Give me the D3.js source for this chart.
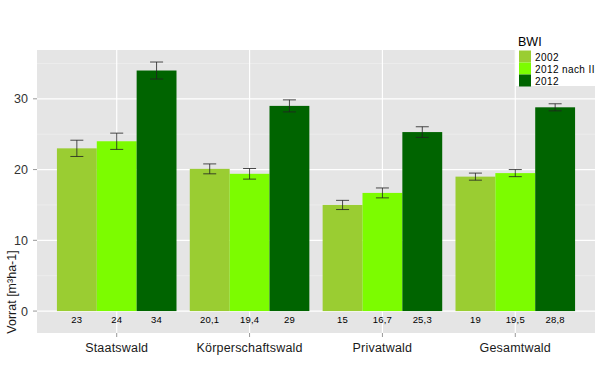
<!DOCTYPE html>
<html><head><meta charset="utf-8">
<script src="https://cdn.jsdelivr.net/npm/d3@7"></script>
<style>body{margin:0;background:#fff}svg{display:block;font-family:"Liberation Sans",Arial,sans-serif}</style>
</head><body><svg id="c" width="600" height="366"></svg>
<script>
const categories = ["Staatswald", "Körperschaftswald", "Privatwald", "Gesamtwald"];
const seriesNames = ["2002", "2012 nach II", "2012"];
const seriesColors = ["#9ACD32", "#7CFC00", "#006400"];
const values2002 = [23, 20.1, 15, 19];
const values2012nachII = [24, 19.4, 16.7, 19.5];
const values2012 = [34, 29, 25.3, 28.8];
const err2002 = [1.15, 0.7, 0.65, 0.5];
const err2012nachII = [1.15, 0.75, 0.7, 0.5];
const err2012 = [1.2, 0.85, 0.75, 0.5];
const valueLabels2002 = ["23", "20,1", "15", "19"];
const valueLabels2012nachII = ["24", "19,4", "16,7", "19,5"];
const valueLabels2012 = ["34", "29", "25,3", "28,8"];
const yTicks = [0, 10, 20, 30];
const yMinor = [5, 15, 25, 35];
const yTitle = "Vorrat [m³ha-1]";
const legendTitle = "BWI";

const series = [
  {name: seriesNames[0], vals: values2002, errs: err2002, labels: valueLabels2002, color: seriesColors[0]},
  {name: seriesNames[1], vals: values2012nachII, errs: err2012nachII, labels: valueLabels2012nachII, color: seriesColors[1]},
  {name: seriesNames[2], vals: values2012, errs: err2012, labels: valueLabels2012, color: seriesColors[2]}
];

const svg = d3.select("#c");
const P = {l: 37, r: 595, t: 50, b: 333};
const xc = d3.scaleLinear().domain([-0.6, categories.length - 1 + 0.6]).range([P.l, P.r]);
const y = d3.scaleLinear().domain([-3.1, 36.9]).range([P.b, P.t]);

svg.append("rect").attr("x", P.l).attr("y", P.t).attr("width", P.r - P.l).attr("height", P.b - P.t).attr("fill", "#E5E5E5");
svg.selectAll(".ming").data(yMinor).join("line")
  .attr("x1", P.l).attr("x2", P.r).attr("y1", d => y(d)).attr("y2", d => y(d))
  .attr("stroke", "#F2F2F2").attr("stroke-width", 0.6);
svg.selectAll(".majg").data(yTicks).join("line")
  .attr("x1", P.l).attr("x2", P.r).attr("y1", d => y(d)).attr("y2", d => y(d))
  .attr("stroke", "#fff").attr("stroke-width", 1.2);
svg.selectAll(".vg").data(categories).join("line")
  .attr("x1", (d, i) => xc(i)).attr("x2", (d, i) => xc(i)).attr("y1", P.t).attr("y2", P.b)
  .attr("stroke", "#fff").attr("stroke-width", 1.2);

const bw = 0.3;
const offsets = [-0.3, 0, 0.3];
series.forEach((s, si) => {
  const g = svg.append("g");
  g.selectAll("rect").data(s.vals).join("rect")
    .attr("x", (d, i) => xc(i + offsets[si] - bw / 2))
    .attr("width", xc(bw) - xc(0))
    .attr("y", d => y(d)).attr("height", d => y(0) - y(d))
    .attr("fill", s.color);
});
series.forEach((s, si) => {
  const g = svg.append("g").attr("stroke", "#222").attr("stroke-opacity", 0.8).attr("stroke-width", 1);
  const cw = 6.5;
  s.vals.forEach((v, i) => {
    const cx = xc(i + offsets[si]);
    const lo = y(v - s.errs[i]), hi = y(v + s.errs[i]);
    g.append("line").attr("x1", cx).attr("x2", cx).attr("y1", lo).attr("y2", hi);
    g.append("line").attr("x1", cx - cw).attr("x2", cx + cw).attr("y1", lo).attr("y2", lo);
    g.append("line").attr("x1", cx - cw).attr("x2", cx + cw).attr("y1", hi).attr("y2", hi);
  });
  svg.append("g").selectAll("text").data(s.labels).join("text")
    .attr("x", (d, i) => xc(i + offsets[si])).attr("y", y(0) + 12)
    .attr("text-anchor", "middle").attr("font-size", 9.5).attr("letter-spacing", 0.2).attr("fill", "#000").text(d => d);
});

svg.selectAll(".yt").data(yTicks).join("line")
  .attr("x1", P.l - 4).attr("x2", P.l).attr("y1", d => y(d)).attr("y2", d => y(d))
  .attr("stroke", "#999").attr("stroke-width", 1);
svg.selectAll(".yl").data(yTicks).join("text")
  .attr("x", P.l - 9).attr("y", d => y(d) + 4.5).attr("text-anchor", "end")
  .attr("font-size", 12.5).attr("fill", "#333").text(d => d);
svg.selectAll(".xt").data(categories).join("line")
  .attr("x1", (d, i) => xc(i)).attr("x2", (d, i) => xc(i)).attr("y1", P.b).attr("y2", P.b + 4)
  .attr("stroke", "#999").attr("stroke-width", 1);
svg.selectAll(".xl").data(categories).join("text")
  .attr("x", (d, i) => xc(i)).attr("y", P.b + 18.5).attr("text-anchor", "middle")
  .attr("font-size", 12.5).attr("letter-spacing", 0.2).attr("fill", "#1a1a1a").text(d => d);
svg.append("text").attr("transform", "translate(16,292) rotate(-90)")
  .attr("text-anchor", "middle").attr("font-size", 12.5).attr("fill", "#1a1a1a").text(yTitle);

svg.append("rect").attr("x", 516).attr("y", 28).attr("width", 84).attr("height", 58).attr("fill", "#fff");
svg.append("text").attr("x", 518).attr("y", 46).attr("font-size", 12.5).attr("fill", "#000").text(legendTitle);
const lg = svg.append("g");
series.forEach((s, si) => {
  lg.append("rect").attr("x", 519).attr("y", 50.5 + si * 12).attr("width", 12).attr("height", 12).attr("fill", s.color);
  lg.append("text").attr("x", 535).attr("y", 60.5 + si * 12).attr("font-size", 10).attr("letter-spacing", 0.4).attr("fill", "#000").text(s.name);
});
</script></body></html>
